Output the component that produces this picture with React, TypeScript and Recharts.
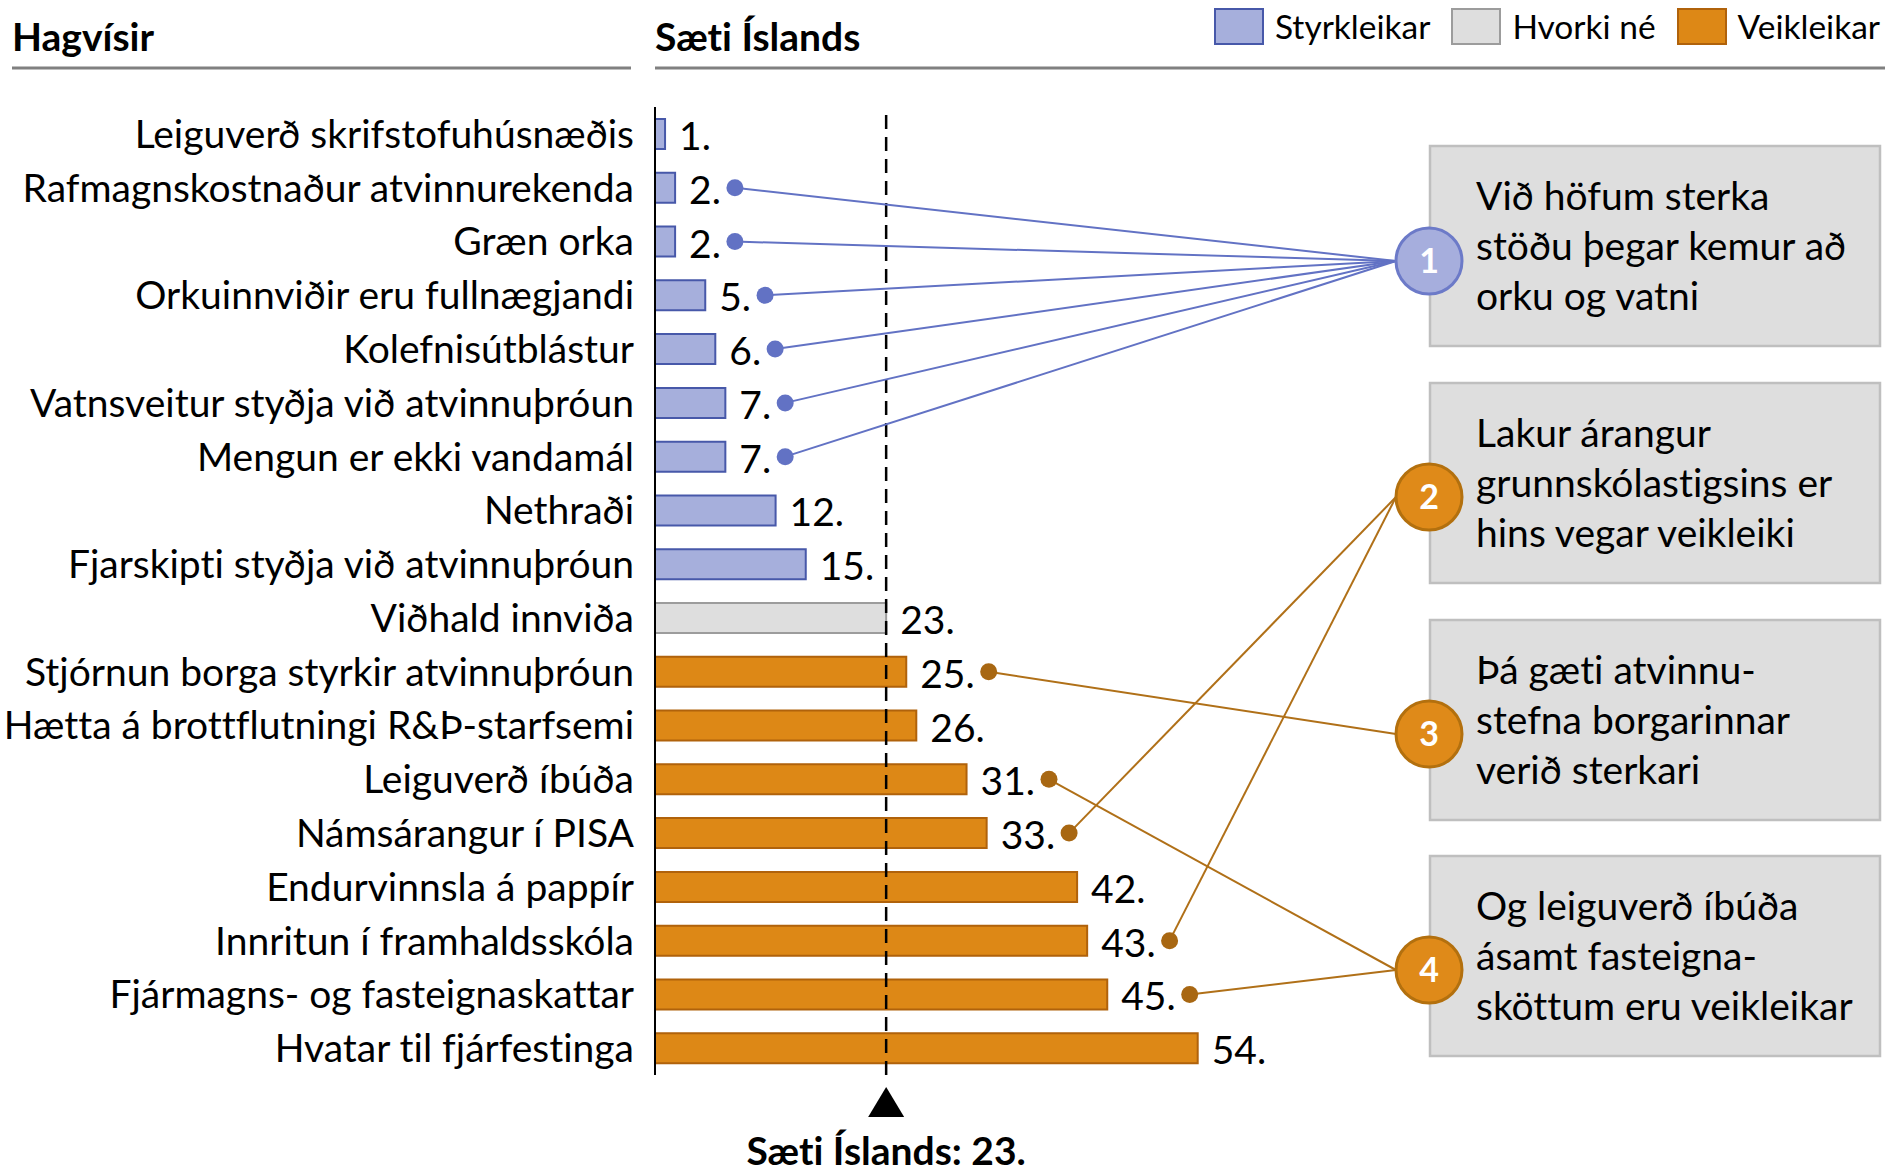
import React from 'react';
import { BarChart, Bar, XAxis, YAxis, ReferenceLine, LabelList, Legend, Cell } from 'recharts';

// ---------- data ----------
const categories = [
  'Leiguverð skrifstofuhúsnæðis',
  'Rafmagnskostnaður atvinnurekenda',
  'Græn orka',
  'Orkuinnviðir eru fullnægjandi',
  'Kolefnisútblástur',
  'Vatnsveitur styðja við atvinnuþróun',
  'Mengun er ekki vandamál',
  'Nethraði',
  'Fjarskipti styðja við atvinnuþróun',
  'Viðhald innviða',
  'Stjórnun borga styrkir atvinnuþróun',
  'Hætta á brottflutningi R&Þ-starfsemi',
  'Leiguverð íbúða',
  'Námsárangur í PISA',
  'Endurvinnsla á pappír',
  'Innritun í framhaldsskóla',
  'Fjármagns- og fasteignaskattar',
  'Hvatar til fjárfestinga',
];
const ranks = [1, 2, 2, 5, 6, 7, 7, 12, 15, 23, 25, 26, 31, 33, 42, 43, 45, 54];
const groups = [
  'strong', 'strong', 'strong', 'strong', 'strong', 'strong', 'strong', 'strong', 'strong',
  'neutral',
  'weak', 'weak', 'weak', 'weak', 'weak', 'weak', 'weak', 'weak',
];
const seriesKeys = ['strong', 'neutral', 'weak'];
const seriesNames = ['Styrkleikar', 'Hvorki né', 'Veikleikar'];
const icelandRank = 23;
const icelandLabel = 'Sæti Íslands: 23.';
// which numbered note each row points to (0 = none)
const calloutTarget = [0, 1, 1, 1, 1, 1, 1, 0, 0, 0, 3, 0, 4, 2, 0, 2, 4, 0];
const noteTexts = [
  ['Við höfum sterka', 'stöðu þegar kemur að', 'orku og vatni'],
  ['Lakur árangur', 'grunnskólastigsins er', 'hins vegar veikleiki'],
  ['Þá gæti atvinnu-', 'stefna borgarinnar', 'verið sterkari'],
  ['Og leiguverð íbúða', 'ásamt fasteigna-', 'sköttum eru veikleikar'],
];
const noteGroup = ['strong', 'weak', 'weak', 'weak'];

const data = categories.map((name, i) => ({ name, rank: ranks[i], group: groups[i] }));

// ---------- styles ----------
const FONT = 'Lato, "Open Sans", sans-serif';
const FS = 39;
const FILL: Record<string, string> = { strong: '#A6AFDC', neutral: '#DEDEDE', weak: '#DD8816' };
const STROKE: Record<string, string> = { strong: '#4758A9', neutral: '#9C9C9C', weak: '#B0620B' };
const DOT: Record<string, string> = { strong: '#6272C4', weak: '#A86712' };
const LINE: Record<string, string> = { strong: '#6272C4', weak: '#B07018' };
const CIRCLE_FILL: Record<string, string> = { strong: '#A6AEDD', weak: '#DF8A19' };
const CIRCLE_STROKE: Record<string, string> = { strong: '#6C7AC8', weak: '#B3700E' };

// annotation layout
const NOTE_X = 1430;
const NOTE_W = 450;
const NOTE_H = 200;
const NOTE_TOP = [146, 383, 620, 856];
const CIRCLE_X = 1429;
const CIRCLE_R = 33;
const CIRCLE_Y = [261, 497, 734, 970];

let ctx: CanvasRenderingContext2D | null = null;
function textWidth(s: string, font: string) {
  if (typeof document === 'undefined') return s.length * 20;
  if (!ctx) ctx = document.createElement('canvas').getContext('2d');
  if (!ctx) return s.length * 20;
  ctx.font = font;
  return ctx.measureText(s).width;
}

const CategoryTick = (props: any) => {
  const { x, y, payload } = props;
  return (
    <text x={x} y={y} dy={14} textAnchor="end" fontSize={FS} fill="#000" fontFamily={FONT}>
      {payload.value}
    </text>
  );
};

const ValueLabel = (props: any) => {
  const { x, y, width, height, index } = props;
  const v = ranks[index];
  const xe = Number(x) + Number(width);
  const cy = Number(y) + Number(height) / 2;
  const txt = `${v}.`;
  const tx = xe + 14;
  const tw = textWidth(txt, `${FS}px Lato`);
  const target = calloutTarget[index];
  let callout = null;
  if (target) {
    const dx = tx + tw + 14;
    const col = noteGroup[target - 1];
    callout = (
      <g>
        <line x1={dx} y1={cy} x2={CIRCLE_X - CIRCLE_R} y2={CIRCLE_Y[target - 1]} stroke={LINE[col]} strokeWidth={2} />
        <circle cx={dx} cy={cy} r={8.5} fill={DOT[col]} />
      </g>
    );
  }
  return (
    <g>
      <text x={tx} y={cy + 16} fontSize={FS} fill="#000" fontFamily={FONT}>{txt}</text>
      {callout}
    </g>
  );
};

const RefMarker = (props: any) => {
  const vb = props.viewBox || {};
  const cx = Number(vb.x);
  const bottom = Number(vb.y) + Number(vb.height);
  if (!isFinite(cx) || !isFinite(bottom)) return null;
  return (
    <g>
      <path d={`M${cx},${bottom + 12} L${cx + 18},${bottom + 42} L${cx - 18},${bottom + 42} Z`} fill="#000" />
      <text x={cx} y={bottom + 90} textAnchor="middle" fontSize={FS} fontWeight="bold" fill="#000" fontFamily={FONT}>
        {icelandLabel}
      </text>
    </g>
  );
};

const LegendContent = () => (
  <div
    style={{
      position: 'absolute',
      right: 22,
      top: 8,
      display: 'flex',
      alignItems: 'center',
      fontFamily: FONT,
      fontSize: 33.5,
      color: '#000',
      whiteSpace: 'nowrap',
    }}
  >
    {seriesKeys.map((k, i) => (
      <div key={k} style={{ display: 'flex', alignItems: 'center', marginLeft: i === 0 ? 0 : 21 }}>
        <div
          style={{
            width: 50,
            height: 37,
            boxSizing: 'border-box',
            background: FILL[k],
            border: `2.5px solid ${STROKE[k]}`,
            marginRight: 11,
          }}
        />
        <span style={{ lineHeight: '37px' }}>{seriesNames[i]}</span>
      </div>
    ))}
  </div>
);

export default function App() {
  return (
    <div
      style={{
        position: 'relative',
        width: 1902,
        height: 1173,
        background: '#fff',
        fontFamily: FONT,
        fontVariantLigatures: 'none',
        fontFeatureSettings: '"liga" 0, "dlig" 0',
      }}
    >
      <style>{'body{margin:0;background:#fff}'}</style>
      <BarChart
        width={1902}
        height={1173}
        data={data}
        layout="vertical"
        margin={{ top: 107, right: 342.5, bottom: 98, left: 0 }}
        barSize={30}
      >
        <XAxis type="number" domain={[0, 90]} hide />
        <YAxis
          type="category"
          dataKey="name"
          width={655}
          interval={0}
          tickLine={false}
          tickSize={0}
          tickMargin={21}
          axisLine={{ stroke: '#000', strokeWidth: 2 }}
          tick={<CategoryTick />}
        />
        <Legend verticalAlign="top" content={<LegendContent />} wrapperStyle={{ position: 'absolute', top: 0, left: 0, width: 1902, height: 0 }} />
        <ReferenceLine x={icelandRank} stroke="#000" strokeWidth={2.5} strokeDasharray="14 8" label={RefMarker} />
        <Bar dataKey="rank" name={seriesNames[0]} strokeWidth={2} isAnimationActive={false}>
          {data.map((d, i) => (
            <Cell key={i} fill={FILL[d.group]} stroke={STROKE[d.group]} />
          ))}
          <LabelList dataKey="rank" content={<ValueLabel />} />
        </Bar>
      </BarChart>
      <svg
        width={1902}
        height={1173}
        style={{ position: 'absolute', left: 0, top: 0, pointerEvents: 'none' }}
        fontFamily={FONT}
      >
        <text x={12} y={51} fontSize={FS} fontWeight="bold" fill="#000">Hagvísir</text>
        <text x={655} y={51} fontSize={FS} fontWeight="bold" fill="#000">Sæti Íslands</text>
        <line x1={12} x2={631} y1={68} y2={68} stroke="#808080" strokeWidth={3} />
        <line x1={655} x2={1885} y1={68} y2={68} stroke="#808080" strokeWidth={3} />
        {noteTexts.map((lines, i) => (
          <g key={i}>
            <rect x={NOTE_X} y={NOTE_TOP[i]} width={NOTE_W} height={NOTE_H} fill="#DEDEDE" stroke="#BFBFBF" strokeWidth={2.5} />
            {lines.map((l, j) => (
              <text key={j} x={1476} y={NOTE_TOP[i] + 64 + j * 50} fontSize={FS} fill="#000">{l}</text>
            ))}
            <circle cx={CIRCLE_X} cy={CIRCLE_Y[i]} r={CIRCLE_R} fill={CIRCLE_FILL[noteGroup[i]]} stroke={CIRCLE_STROKE[noteGroup[i]]} strokeWidth={3} />
            <text x={CIRCLE_X} y={CIRCLE_Y[i] + 12} textAnchor="middle" fontSize={34} fontWeight="bold" fill="#fff">{i + 1}</text>
          </g>
        ))}
      </svg>
    </div>
  );
}
